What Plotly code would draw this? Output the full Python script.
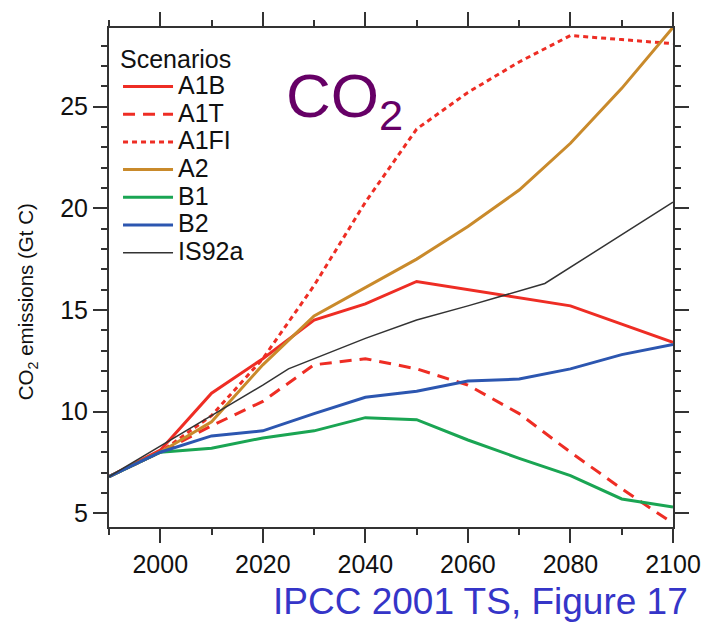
import plotly.graph_objects as go

years = [1990, 2000, 2010, 2020, 2030, 2040, 2050, 2060, 2070, 2080, 2090, 2100]
a1b = [6.8, 8.1, 10.9, 12.6, 14.5, 15.3, 16.4, 16.0, 15.6, 15.2, 14.3, 13.4]
a1t = [6.8, 8.0, 9.3, 10.5, 12.3, 12.6, 12.1, 11.3, 9.9, 8.0, 6.2, 4.5]
a1fi = [6.8, 8.0, 9.8, 12.6, 16.2, 20.3, 23.9, 25.7, 27.2, 28.5, 28.3, 28.1]
a2 = [6.8, 8.0, 9.5, 12.3, 14.7, 16.1, 17.5, 19.1, 20.9, 23.2, 25.9, 28.9]
b1 = [6.8, 8.0, 8.2, 8.7, 9.05, 9.7, 9.6, 8.6, 7.7, 6.85, 5.7, 5.3]
b2 = [6.8, 8.0, 8.8, 9.05, 9.9, 10.7, 11.0, 11.5, 11.6, 12.1, 12.8, 13.3]
is92a_years = [1990, 2000, 2010, 2020, 2025, 2030, 2040, 2050, 2060, 2075, 2100]
is92a = [6.8, 8.3, 9.8, 11.3, 12.1, 12.6, 13.6, 14.5, 15.2, 16.3, 20.3]

x_ticks = [2000, 2020, 2040, 2060, 2080, 2100]
y_ticks = [5, 10, 15, 20, 25]

FONT = "Liberation Sans, Arial, Helvetica, sans-serif"
RED = "#ee2d24"
ORANGE = "#c98a2b"
GREEN = "#1aa553"
BLUE = "#2c56b0"
BLACK = "#333333"

series = [
    ("A1B", years, a1b, RED, 3, "solid"),
    ("A1T", years, a1t, RED, 3, "12px,8px"),
    ("A1FI", years, a1fi, RED, 3, "5px,4px"),
    ("A2", years, a2, ORANGE, 3, "solid"),
    ("B1", years, b1, GREEN, 3, "solid"),
    ("B2", years, b2, BLUE, 3, "solid"),
    ("IS92a", is92a_years, is92a, BLACK, 1.5, "solid"),
]

fig = go.Figure()
for name, xs, ys, color, width, dash in series:
    fig.add_trace(go.Scatter(
        x=xs, y=ys, mode="lines",
        name='<span style="font-size:25px">' + name + '</span>',
        line=dict(color=color, width=width, dash=dash),
    ))

axis_common = dict(
    showline=True, linecolor=BLACK, linewidth=2, mirror="allticks",
    ticks="outside", ticklen=14, tickwidth=1.5, tickcolor=BLACK,
    showgrid=False, zeroline=False,
    tickfont=dict(family=FONT, size=25, color="#111111"),
)

fig.update_xaxes(
    range=[1990, 2100], tickvals=x_ticks, ticktext=[str(v) for v in x_ticks],
    minor=dict(dtick=10, tick0=2000, ticklen=6, tickwidth=1.5, tickcolor=BLACK, ticks="outside"),
    **axis_common,
)
fig.update_yaxes(
    range=[4.32, 28.87], tickvals=y_ticks, ticktext=[str(v) for v in y_ticks],
    minor=dict(dtick=1, tick0=5, ticklen=6, tickwidth=1.5, tickcolor=BLACK, ticks="outside"),
    **axis_common,
)

fig.update_layout(
    width=713, height=623,
    margin=dict(l=109, r=35, t=25, b=96),
    paper_bgcolor="white", plot_bgcolor="white",
    font=dict(family=FONT, color="#111111"),
    showlegend=True,
    legend=dict(
        x=0.016, y=0.97, xanchor="left", yanchor="top",
        bgcolor="rgba(0,0,0,0)", borderwidth=0,
        font=dict(family=FONT, size=19, color="#111111"),
        title=dict(text='<span style="font-size:25px">Scenarios</span>',
                   font=dict(family=FONT, size=19, color="#111111")),
        itemwidth=50, tracegroupgap=0,
    ),
    annotations=[
        dict(text="CO<sub>2</sub> emissions (Gt C)", textangle=-90,
             xref="paper", yref="paper", x=-0.144, y=0.452,
             xanchor="center", yanchor="middle", showarrow=False,
             font=dict(family=FONT, size=20.5, color="#111111")),
        dict(text="CO<sub>2</sub>", xref="paper", yref="paper",
             x=0.31, y=0.937, xanchor="left", yanchor="top", showarrow=False,
             font=dict(family=FONT, size=62, color="#660066")),
        dict(text="IPCC 2001 TS, Figure 17", xref="paper", yref="paper",
             x=0.659, y=-0.149, xanchor="center", yanchor="middle", showarrow=False,
             font=dict(family=FONT, size=37, color="#3535c8")),
    ],
)

fig.write_html("out.html")
